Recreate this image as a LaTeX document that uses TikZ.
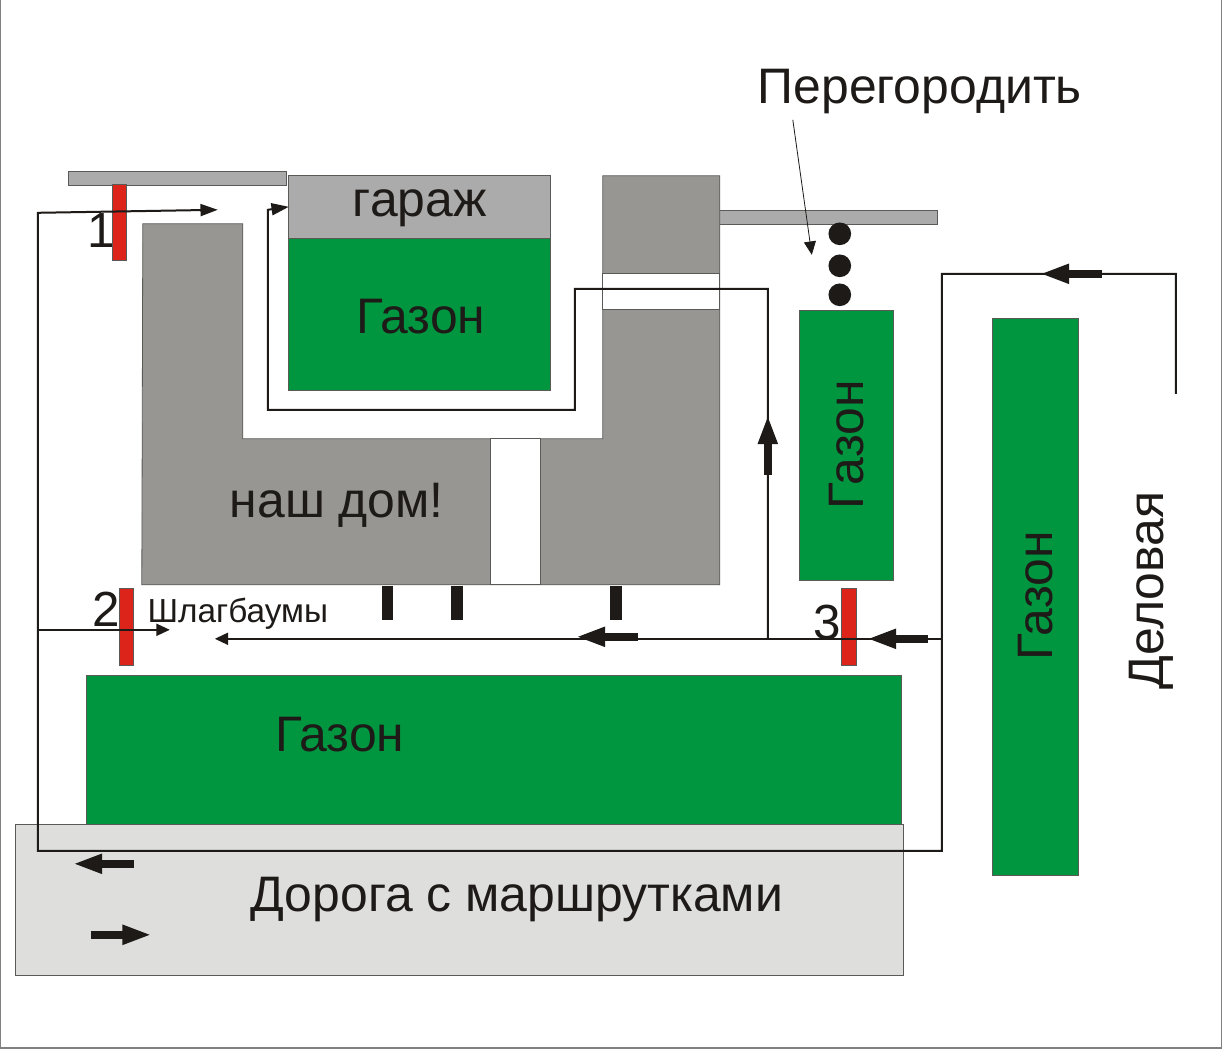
\documentclass[tikz,border=0pt]{standalone}
\usepackage{fontspec}
\setmainfont{Liberation Sans}
\usetikzlibrary{arrows.meta}
\definecolor{grn}{RGB}{0,150,64}
\definecolor{hse}{RGB}{151,150,147}
\definecolor{lgr}{RGB}{171,171,171}
\definecolor{road}{RGB}{222,222,221}
\definecolor{rd}{RGB}{220,36,27}
\definecolor{blk}{RGB}{29,26,24}
\definecolor{edg}{RGB}{90,90,86}
\tikzset{
  x=0.75pt,y=-0.75pt,
  area/.style={draw=edg,line width=0.6pt},
  lawn/.style={area,fill=grn},
  barrier/.style={area,fill=rd},
  wall/.style={area,fill=lgr},
  route/.style={draw=blk,line width=1.5pt},
  thin route/.style={draw=blk,line width=1.2pt},
  blockarrow/.style={draw=blk,line width=6.4pt,-{Triangle[length=22pt,width=13.5pt,sep=0pt]}},
  big/.style={font=\fontsize{37.4pt}{42pt}\selectfont,text=blk,inner sep=0pt},
  digit/.style={font=\fontsize{37pt}{42pt}\selectfont,text=blk,inner sep=0pt},
  small/.style={font=\fontsize{25pt}{29pt}\selectfont,text=blk,inner sep=0pt},
  post/.style={fill=blk,draw=none},
  pin/.style={circle,fill=blk,draw=none,minimum size=17pt,inner sep=0pt}
}
\begin{document}
\begin{tikzpicture}
\useasboundingbox (0,0) rectangle (1222,1049);
\fill[white] (0,0) rectangle (1222,1049);
\draw[draw=gray,line width=1pt] (0.7,-1) -- (0.7,1048) -- (1221.3,1048) -- (1221.3,-1);
\begin{scope}[shift={(-0.2,-0.2)}]
% road and lawns
\draw[area,fill=road] (16,825) rectangle (904,976);
\draw[lawn] (87,676) rectangle (902,825);
\draw[lawn] (800,311) rectangle (894,581);
\draw[lawn] (993,319) rectangle (1079,876);
% garage block
\draw[lawn] (289,239) rectangle (551,391);
\draw[wall] (289,176) rectangle (551,239);
\draw[wall] (69,172) rectangle (287,186);
\draw[wall] (720,211) rectangle (938,225);
% house
\draw[area,fill=hse] (143,224) -- (243,224) -- (243,439) -- (603,439) -- (603,176) -- (720,176) -- (720,585) -- (142,585) -- cycle;
\draw[area,fill=white] (603,274) rectangle (720,310);
\draw[area,fill=white] (491,439) rectangle (541,585);
\fill[post] (382,586) rectangle (393,620);
\fill[post] (451,586) rectangle (463,620);
\fill[post] (610,586) rectangle (622,620);
% labels beneath the barriers
\node[digit] (n1) at (101,231) {1};
\node[digit] (n2) at (106,609) {2};
\node[digit] (n3) at (827,623) {3};
% barriers
\draw[barrier] (113,185) rectangle (127,261);
\draw[barrier] (120,589) rectangle (134,666);
\draw[barrier] (842,589) rectangle (857,666);
% pins
\node[pin] (p1) at (840,234) {};
\node[pin] (p2) at (840,266) {};
\node[pin] (p3) at (840,295) {};
% route coordinates
\coordinate (a0) at (1176,394);
\coordinate (a1) at (1176,274);
\coordinate (a2) at (942,274);
\coordinate (a3) at (942,851);
\coordinate (a4) at (38,851);
\coordinate (a5) at (38,213);
\coordinate (a6) at (218,210);
\coordinate (b0) at (38,630);
\coordinate (b1) at (170,630);
\coordinate (c0) at (942,639);
\coordinate (c1) at (215,639);
\coordinate (d0) at (768,639);
\coordinate (d1) at (768,289);
\coordinate (d2) at (575,289);
\coordinate (d3) at (575,410);
\coordinate (d4) at (268,410);
\coordinate (d5) at (268,210);
\coordinate (d6) at (289,207);
\coordinate (e0) at (793,120);
\coordinate (e1) at (812,255);
\draw[route,-{Triangle[length=13pt,width=9pt]}] (a0) -- (a1) -- (a2) -- (a3) -- (a4) -- (a5) -- (a6);
\draw[thin route,-{Triangle[length=10pt,width=9pt]}] (b0) -- (b1);
\draw[route,-{Triangle[length=10pt,width=9pt]}] (c0) -- (c1);
\draw[route,-{Triangle[length=13pt,width=9pt]}] (d0) -- (d1) -- (d2) -- (d3) -- (d4) -- (d5) -- (d6);
\draw[draw=blk,line width=0.6pt,-{Triangle[length=10pt,width=9pt]}] (e0) -- (e1);
% block arrows
\coordinate (f0) at (134,864); \coordinate (f1) at (73,864);
\coordinate (g0) at (91,935); \coordinate (g1) at (152,935);
\coordinate (h0) at (638,637); \coordinate (h1) at (576,637);
\coordinate (i0) at (928,639); \coordinate (i1) at (867,639);
\coordinate (j0) at (1102,274); \coordinate (j1) at (1040,274);
\coordinate (k0) at (768,475); \coordinate (k1) at (768,415);
\draw[blockarrow] (f0) -- (f1);
\draw[blockarrow] (g0) -- (g1);
\draw[blockarrow] (h0) -- (h1);
\draw[blockarrow] (i0) -- (i1);
\draw[blockarrow] (j0) -- (j1);
\draw[blockarrow] (k0) -- (k1);
% texts
\node[big] (t1) at (920,92) {Перегородить};
\node[big] (t2) at (420,208) {гараж};
\node[big] (t3) at (421,317) {Газон};
\node[big] (t4) at (337,506) {наш дом!};
\node[small] (t5) at (238,614) {Шлагбаумы};
\node[big] (t6) at (340,735) {Газон};
\node[big] (t7) at (517,900) {Дорога с маршрутками};
\node[big,rotate=90] (t8) at (847,445) {Газон};
\node[big,rotate=90] (t9) at (1036,596) {Газон};
\node[big,rotate=90] (t10) at (1152,591) {Деловая};
\end{scope}
\end{tikzpicture}
\end{document}
